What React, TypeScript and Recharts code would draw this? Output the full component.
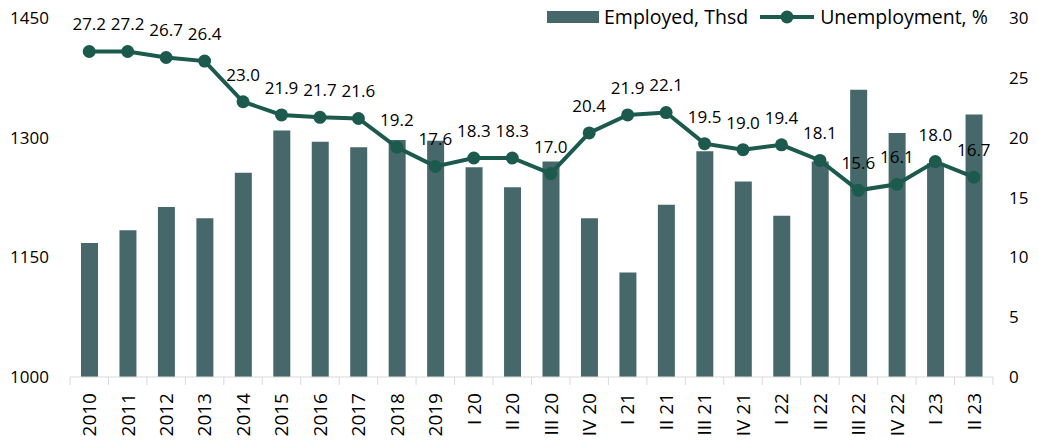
import React from 'react';
import {
  ComposedChart,
  Bar,
  Line,
  XAxis,
  YAxis,
  LabelList,
} from 'recharts';

const categories = [
  '2010', '2011', '2012', '2013', '2014', '2015', '2016', '2017', '2018', '2019',
  'I 20', 'II 20', 'III 20', 'IV 20', 'I 21', 'II 21', 'III 21', 'IV 21',
  'I 22', 'II 22', 'III 22', 'IV 22', 'I 23', 'II 23',
];
const employed = [
  1168, 1184, 1213, 1199, 1256, 1309, 1295, 1288, 1297, 1296,
  1263, 1238, 1270, 1199, 1131, 1216, 1283, 1245,
  1202, 1270, 1360, 1306, 1268, 1329,
];
const unemployment = [
  27.2, 27.2, 26.7, 26.4, 23.0, 21.9, 21.7, 21.6, 19.2, 17.6,
  18.3, 18.3, 17.0, 20.4, 21.9, 22.1, 19.5, 19.0,
  19.4, 18.1, 15.6, 16.1, 18.0, 16.7,
];
const leftTicks = [1000, 1150, 1300, 1450];
const rightTicks = [0, 5, 10, 15, 20, 25, 30];

const BAR_COLOR = '#47686b';
const LINE_COLOR = '#1c5a4e';
const AXIS_COLOR = '#d9d9d9';
const FONT = '"Open Sans", sans-serif';

const WIDTH = 1038;
const HEIGHT = 444;
const LEFT_W = 70;
const RIGHT_W = 45;
const BAND = (WIDTH - LEFT_W - RIGHT_W) / categories.length;

const data = categories.map((name, i) => ({
  name,
  employed: employed[i],
  unemployment: unemployment[i],
}));

const XTick = (props: any) => {
  const { x, y, payload, index } = props;
  const last = index === categories.length - 1;
  return (
    <g transform={`translate(${x},${y})`}>
      <line x1={-BAND / 2} y1={0} x2={-BAND / 2} y2={8} stroke={AXIS_COLOR} />
      {last && <line x1={BAND / 2} y1={0} x2={BAND / 2} y2={8} stroke={AXIS_COLOR} />}
      <text
        transform="rotate(-90)"
        x={-16}
        y={0}
        dy="0.36em"
        textAnchor="end"
        fontSize={19}
        fontFamily={FONT}
        fill="#000"
      >
        {payload.value}
      </text>
    </g>
  );
};

const PointLabel = (props: any) => {
  const { x, y, value } = props;
  return (
    <text
      x={x}
      y={y - 27}
      dy="0.35em"
      textAnchor="middle"
      fontSize={17}
      fontFamily={FONT}
      fill="#000"
    >
      {Number(value).toFixed(1)}
    </text>
  );
};

function ChartLegend() {
  return (
    <div
      style={{
        position: 'absolute',
        top: 6,
        left: 547,
        display: 'flex',
        alignItems: 'center',
        fontFamily: FONT,
        fontSize: 19.5,
        color: '#000',
        lineHeight: '22px',
        whiteSpace: 'nowrap',
      }}
    >
      <span style={{ display: 'inline-block', width: 52, height: 12, background: BAR_COLOR, marginRight: 5 }} />
      <span>Employed, Thsd</span>
      <svg width={54} height={14} style={{ marginLeft: 12, marginRight: 6 }}>
        <line x1={0} y1={7} x2={54} y2={7} stroke={LINE_COLOR} strokeWidth={4} />
        <circle cx={27} cy={7} r={6.5} fill={LINE_COLOR} />
      </svg>
      <span>Unemployment, %</span>
    </div>
  );
}

export default function App() {
  return (
    <div style={{ position: 'absolute', left: 0, top: 0, width: WIDTH, height: HEIGHT, background: '#fff' }}>
      <ComposedChart
        width={WIDTH}
        height={HEIGHT}
        data={data}
        margin={{ top: 18, right: 0, left: 0, bottom: 0 }}
      >
        <XAxis
          dataKey="name"
          interval={0}
          height={67}
          axisLine={{ stroke: AXIS_COLOR }}
          tickLine={false}
          tickSize={0}
          tickMargin={0}
          tick={<XTick />}
        />
        <YAxis
          yAxisId="left"
          orientation="left"
          width={LEFT_W}
          domain={[1000, 1450]}
          ticks={leftTicks}
          allowDataOverflow
          axisLine={false}
          tickLine={false}
          tickSize={0}
          tickMargin={21}
          tick={{ fill: '#000', fontSize: 17, fontFamily: FONT }}
        />
        <YAxis
          yAxisId="right"
          orientation="right"
          width={RIGHT_W}
          domain={[0, 30]}
          ticks={rightTicks}
          axisLine={false}
          tickLine={false}
          tickSize={0}
          tickMargin={16}
          tick={{ fill: '#000', fontSize: 17, fontFamily: FONT }}
        />
        <Bar
          yAxisId="left"
          dataKey="employed"
          name="Employed, Thsd"
          fill={BAR_COLOR}
          barSize={17}
          isAnimationActive={false}
        />
        <Line
          yAxisId="right"
          dataKey="unemployment"
          name="Unemployment, %"
          type="linear"
          stroke={LINE_COLOR}
          strokeWidth={4}
          dot={{ r: 6.5, fill: LINE_COLOR, stroke: LINE_COLOR, strokeWidth: 0 }}
          activeDot={false}
          isAnimationActive={false}
        >
          <LabelList dataKey="unemployment" content={<PointLabel />} />
        </Line>
      </ComposedChart>
      <ChartLegend />
    </div>
  );
}
